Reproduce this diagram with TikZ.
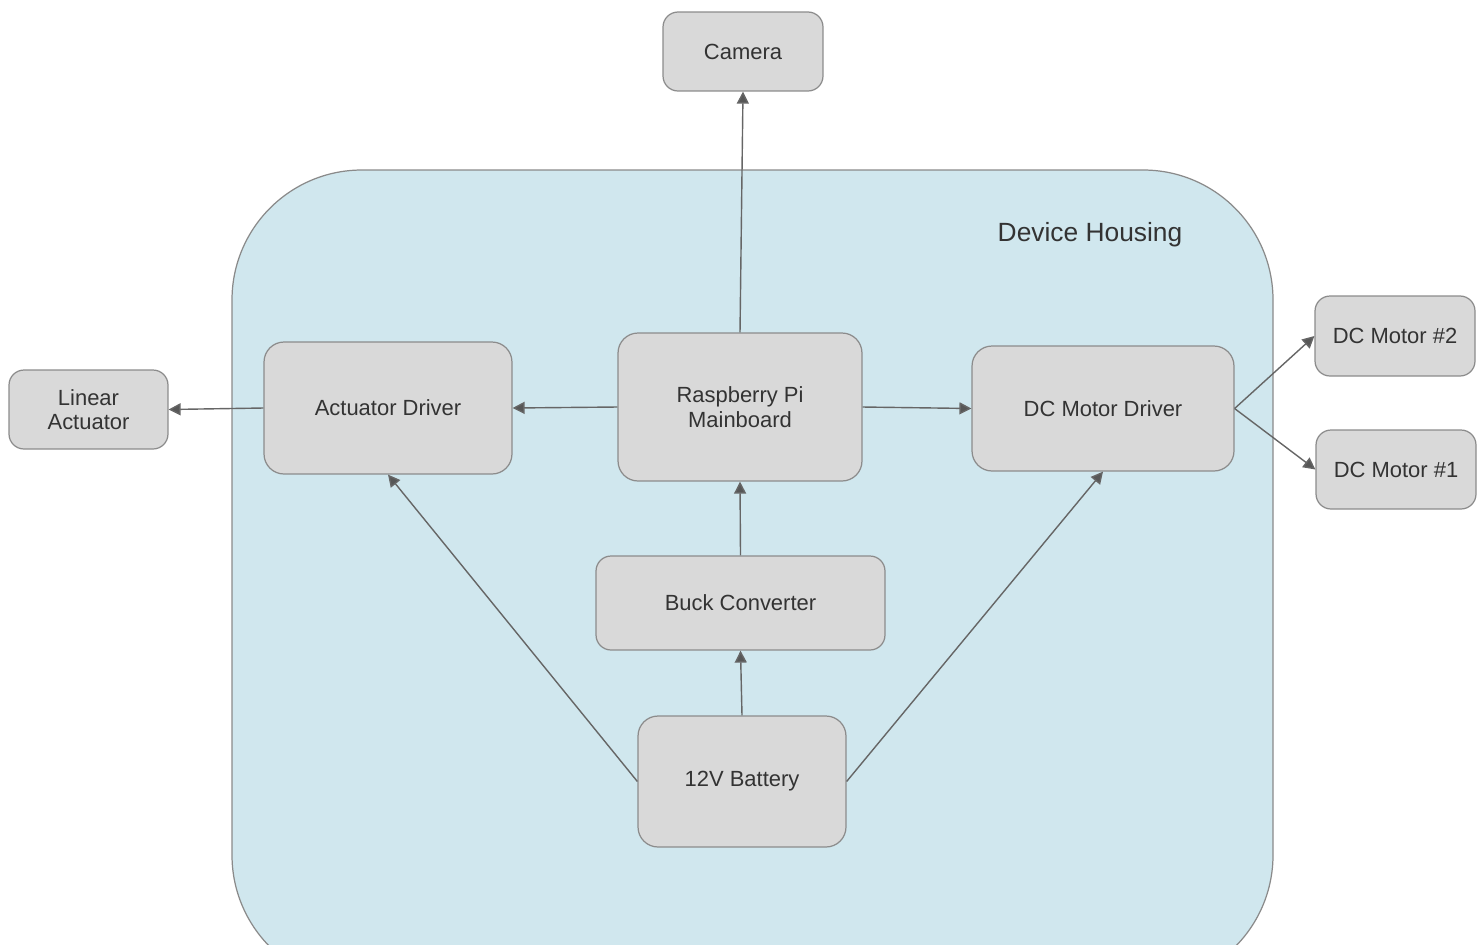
\documentclass[tikz,border=0pt]{standalone}
\usepackage{fontspec}
\setmainfont{Liberation Sans}
\usetikzlibrary{arrows.meta}
\definecolor{boxfill}{HTML}{D9D9D9}
\definecolor{boxline}{HTML}{8C8C8C}
\definecolor{housefill}{HTML}{D0E7EE}
\definecolor{houseline}{HTML}{8A8A8A}
\definecolor{wire}{HTML}{666666}
\definecolor{txt}{HTML}{333333}
\tikzset{
  blk/.style={draw=boxline, fill=boxfill, line width=0.7pt, rounded corners=0.4cm,
    inner sep=0pt, align=center, text=txt, font=\fontsize{12.5}{14}\selectfont},
  sblk/.style={blk, rounded corners=0.3cm},
  conn/.style={draw=wire, line width=0.8pt, -{Triangle[length=0.24cm,width=0.24cm,fill=wire!85!black]}},
}
\begin{document}
\begin{tikzpicture}[x=0.02cm,y=-0.02cm]
\useasboundingbox (0,0) rectangle (1483,944);
\begin{scope}
\clip (0,0) rectangle (1483,944);
\draw[draw=houseline, fill=housefill, line width=0.7pt, rounded corners=2.6cm] (232,170) rectangle (1273,985);
\end{scope}
\node[text=txt, font=\fontsize{15}{17}\selectfont] (house) at (1090,235) {Device Housing};

\node[sblk, minimum width=3.2cm, minimum height=1.58cm] (cam) at (743,51.5) {Camera};
\node[sblk, minimum width=3.18cm, minimum height=1.58cm] (la) at (88.5,409.5) {Linear\\Actuator};
\node[blk, minimum width=4.96cm, minimum height=2.64cm] (ad) at (388,408) {Actuator Driver};
\node[blk, minimum width=4.88cm, minimum height=2.96cm] (pi) at (740,407) {Raspberry Pi\\Mainboard};
\node[blk, minimum width=5.24cm, minimum height=2.5cm] (dcd) at (1103,408.5) {DC Motor Driver};
\node[sblk, minimum width=3.2cm, minimum height=1.6cm] (m2) at (1395,336) {DC Motor \#2};
\node[sblk, minimum width=3.2cm, minimum height=1.58cm] (m1) at (1396,469.5) {DC Motor \#1};
\node[blk, minimum width=5.78cm, minimum height=1.88cm, rounded corners=0.3cm] (buck) at (740.5,603) {Buck Converter};
\node[blk, minimum width=4.16cm, minimum height=2.62cm] (bat) at (742,781.5) {12V Battery};

\draw[conn] (pi.north) -- (cam.south);
\draw[conn] (pi.west) -- (ad.east);
\draw[conn] (ad.west) -- (la.east);
\draw[conn] (pi.east) -- (dcd.west);
\draw[conn] (dcd.east) -- (m2.west);
\draw[conn] (dcd.east) -- (m1.west);
\draw[conn] (buck.north) -- (pi.south);
\draw[conn] (bat.north) -- (buck.south);
\draw[conn] (bat.west) -- (ad.south);
\draw[conn] (bat.east) -- (dcd.south);
\end{tikzpicture}
\end{document}
